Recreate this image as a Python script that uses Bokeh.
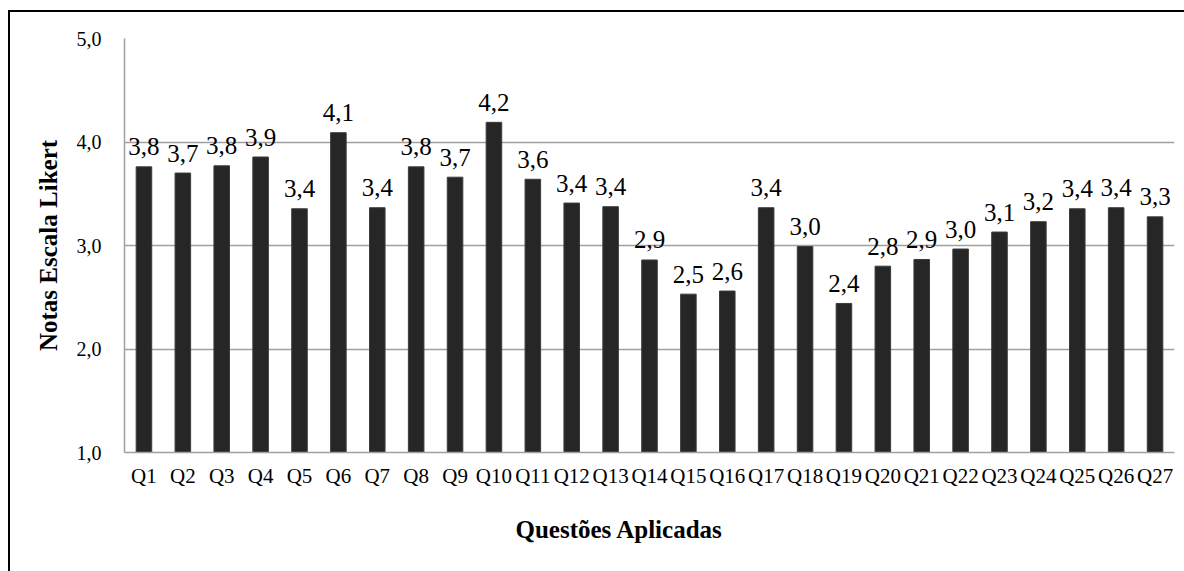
from bokeh.plotting import figure
from bokeh.models import Range1d, FactorRange, FixedTicker, CustomJSTickFormatter, ColumnDataSource, Title
from bokeh.core.properties import value
from bokeh.embed import file_html
from bokeh.resources import INLINE

categories = [f"Q{i}" for i in range(1, 28)]
scores = [3.76, 3.70, 3.77, 3.855, 3.355, 4.09, 3.365, 3.76, 3.66, 4.19,
          3.64, 3.41, 3.375, 2.86, 2.53, 2.56, 3.365, 2.99, 2.44, 2.80,
          2.865, 2.966, 3.13, 3.23, 3.355, 3.365, 3.277]
y_ticks = [1, 2, 3, 4, 5]
x_title = "Questões Aplicadas"
y_title = "Notas Escala Likert"

labels = [f"{v:.1f}".replace(".", ",") for v in scores]
src = ColumnDataSource(dict(cat=categories, score=scores, label=labels))

FONT = "Liberation Serif"

p = figure(x_range=FactorRange(*categories, range_padding=0), y_range=Range1d(1, 5),
           width=1176, height=561, output_backend="svg", toolbar_location=None,
           min_border_left=114, min_border_right=12, min_border_top=26, min_border_bottom=121)
p.margin = (10, 0, 0, 8)
p.styles = {"border-top": "2px solid #000000", "border-left": "2px solid #000000",
            "box-sizing": "border-box"}
p.outline_line_color = None
p.background_fill_color = "white"
p.border_fill_color = "white"

p.vbar(x="cat", top="score", bottom=1, width=0.4, source=src,
       fill_color="#262626", line_color="#3c3c3c", line_width=1)

p.text(x="cat", y="score", text="label", source=src, text_align="center",
       text_baseline="alphabetic", y_offset=-20, text_font=value(FONT),
       text_font_size="25px", text_color="#000000")

# y axis
p.yaxis.ticker = FixedTicker(ticks=y_ticks)
p.yaxis.formatter = CustomJSTickFormatter(code="return tick.toFixed(1).replace('.', ',');")
p.yaxis.major_tick_line_color = None
p.yaxis.minor_tick_line_color = None
p.yaxis.axis_line_color = "#a0a0a0"
p.yaxis.axis_line_width = 1.5
p.yaxis.major_label_text_font = FONT
p.yaxis.major_label_text_font_size = "20px"
p.yaxis.major_label_text_color = "#000000"
p.yaxis.major_label_standoff = 17
p.yaxis.axis_label = y_title
p.yaxis.axis_label_text_font = FONT
p.yaxis.axis_label_text_font_size = "25px"
p.yaxis.axis_label_text_font_style = "bold"
p.yaxis.axis_label_text_color = "#000000"
p.yaxis.axis_label_standoff = 12

# x axis
p.xaxis.major_tick_line_color = None
p.xaxis.minor_tick_line_color = None
p.xaxis.axis_line_color = "#a0a0a0"
p.xaxis.axis_line_width = 1.5
p.xaxis.major_label_text_font = FONT
p.xaxis.major_label_text_font_size = "21px"
p.xaxis.major_label_text_color = "#000000"
p.xaxis.major_label_standoff = 5

p.xgrid.grid_line_color = None
p.ygrid.grid_line_color = "#a0a0a0"
p.ygrid.grid_line_width = 1.5

p.add_layout(Title(text=x_title, align="left", offset=391, standoff=47,
                   text_font=FONT, text_font_size="25px", text_font_style="bold",
                   text_color="#000000"), "below")

open("out.html", "w").write(file_html(p, INLINE))
